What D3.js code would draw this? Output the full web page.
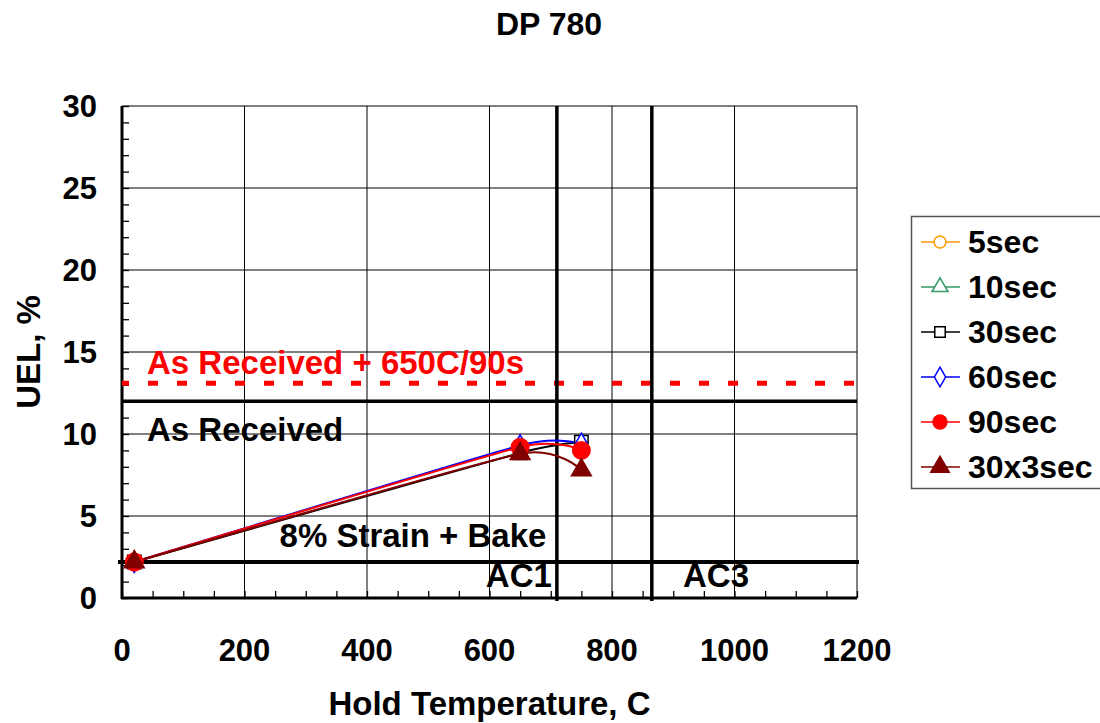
<!DOCTYPE html>
<meta charset="utf-8">
<head>
    <title>DP 780</title>
</head>
<style>
 body { margin: 0; background: #fff; }
 svg text { font-family: Arial, "Liberation Sans", sans-serif; font-weight: bold; }
 .grid line { stroke: #000; stroke-width: 1px; }
 .tick-label { font-size: 31px; fill: #000; }
 .legend text { font-size: 32px; }
</style>
<body>
    <div id="chart"></div>
    <script src="https://d3js.org/d3.v7.min.js"></script>
    <script>

     var width = 1100,
         height = 723;

     var margin = {left: 122, right: 243, top: 106, bottom: 125};

     // data
     var temps = [20, 650, 750];
     var seriesNames = ["5sec", "10sec", "30sec", "60sec", "90sec", "30x3sec"];
     var uel5 = [2.2];
     var uel10 = [2.2];
     var uel30 = [2.2, 8.85, 9.5];
     var uel60 = [2.2, 9.3, 9.4];
     var uel90 = [2.2, 9.2, 9.0];
     var uel30x3 = [2.2, 8.8, 7.8];
     var xTicks = [0, 200, 400, 600, 800, 1000, 1200];
     var yTicks = [0, 5, 10, 15, 20, 25, 30];

     var asReceived = 12.0;
     var asReceived650 = 13.1;
     var strainBake = 2.2;
     var ac1 = 710;
     var ac3 = 865;

     var series = [
         {name: seriesNames[0], values: uel5, color: "#ff9900", symbol: d3.symbolCircle, fill: "#fff", size: 130},
         {name: seriesNames[1], values: uel10, color: "#339966", symbol: d3.symbolTriangle, fill: "#fff", size: 110},
         {name: seriesNames[2], values: uel30, color: "#000000", symbol: d3.symbolSquare, fill: "#fff", size: 180},
         {name: seriesNames[3], values: uel60, color: "#0000ff", symbol: d3.symbolDiamond, fill: "#fff", size: 130},
         {name: seriesNames[4], values: uel90, color: "#ff0000", symbol: d3.symbolCircle, fill: "#ff0000", size: 240},
         {name: seriesNames[5], values: uel30x3, color: "#800000", symbol: d3.symbolTriangle, fill: "#800000", size: 170}
     ];

     var svg = d3.select("#chart").append("svg")
                 .attr("width", width)
                 .attr("height", height);

     var x = d3.scaleLinear()
               .domain([0, 1200])
               .range([margin.left, width - margin.right]);

     var y = d3.scaleLinear()
               .domain([0, 30])
               .range([height - margin.bottom, margin.top]);

     // gridlines
     var grid = svg.append("g").attr("class", "grid");
     grid.selectAll("line.v")
         .data(xTicks)
         .enter().append("line")
         .attr("x1", d => x(d)).attr("x2", d => x(d))
         .attr("y1", y(0)).attr("y2", y(30));
     grid.selectAll("line.h")
         .data(yTicks)
         .enter().append("line")
         .attr("x1", x(0)).attr("x2", x(1200))
         .attr("y1", d => y(d)).attr("y2", d => y(d));

     // minor ticks (inside)
     svg.append("g")
        .attr("transform", "translate(0," + y(0) + ")")
        .call(d3.axisBottom(x).ticks(24).tickSize(-7).tickFormat(""))
        .call(g => g.select(".domain").remove())
        .call(g => g.selectAll("line").attr("stroke", "#000").attr("stroke-width", 1.3));
     svg.append("g")
        .attr("transform", "translate(" + x(0) + ",0)")
        .call(d3.axisLeft(y).ticks(30).tickSize(-7).tickFormat(""))
        .call(g => g.select(".domain").remove())
        .call(g => g.selectAll("line").attr("stroke", "#000").attr("stroke-width", 1.3));

     // axes frame
     svg.append("line")
        .attr("x1", x(0)).attr("x2", x(0))
        .attr("y1", y(30)).attr("y2", y(0) + 1)
        .attr("stroke", "#000").attr("stroke-width", 3);
     svg.append("line")
        .attr("x1", x(0) - 1).attr("x2", x(1200))
        .attr("y1", y(0)).attr("y2", y(0))
        .attr("stroke", "#000").attr("stroke-width", 3);

     // tick labels
     svg.append("g").selectAll("text")
        .data(xTicks)
        .enter().append("text")
        .attr("class", "tick-label")
        .attr("x", d => x(d))
        .attr("y", y(0) + 63)
        .attr("text-anchor", "middle")
        .text(d => d);
     svg.append("g").selectAll("text")
        .data(yTicks)
        .enter().append("text")
        .attr("class", "tick-label")
        .attr("x", x(0) - 25)
        .attr("y", d => y(d) + 11)
        .attr("text-anchor", "end")
        .text(d => d);

     // reference lines
     svg.append("line")
        .attr("x1", x(0)).attr("x2", x(1200))
        .attr("y1", y(asReceived650)).attr("y2", y(asReceived650))
        .attr("stroke", "#ff0000").attr("stroke-width", 5)
        .attr("stroke-dasharray", "10,19")
        .attr("stroke-dashoffset", 3);
     svg.append("line")
        .attr("x1", x(0)).attr("x2", x(1200))
        .attr("y1", y(asReceived)).attr("y2", y(asReceived))
        .attr("stroke", "#000").attr("stroke-width", 3.5);
     svg.append("line")
        .attr("x1", x(0) - 4).attr("x2", x(1200) + 2)
        .attr("y1", y(strainBake)).attr("y2", y(strainBake))
        .attr("stroke", "#000").attr("stroke-width", 4);
     [ac1, ac3].forEach(function(t) {
         svg.append("line")
            .attr("x1", x(t)).attr("x2", x(t))
            .attr("y1", y(30)).attr("y2", y(0) + 3)
            .attr("stroke", "#000").attr("stroke-width", 3.5);
     });

     // annotations
     svg.append("text").attr("x", 147).attr("y", y(asReceived650) - 9)
        .attr("font-size", 33).attr("fill", "#ff0000")
        .text("As Received + 650C/90s");
     svg.append("text").attr("x", 147).attr("y", y(asReceived) + 40)
        .attr("font-size", 33).attr("fill", "#000")
        .text("As Received");
     svg.append("text").attr("x", 413).attr("y", y(strainBake) - 15)
        .attr("font-size", 33).attr("text-anchor", "middle")
        .text("8% Strain + Bake");
     svg.append("text").attr("x", x(ac1) - 5).attr("y", y(strainBake) + 25)
        .attr("font-size", 33).attr("text-anchor", "end")
        .text("AC1");
     svg.append("text").attr("x", 716).attr("y", y(strainBake) + 25)
        .attr("font-size", 33).attr("text-anchor", "middle")
        .text("AC3");

     // series lines
     var line = d3.line()
                  .x(d => x(d[0]))
                  .y(d => y(d[1]))
                  .curve(d3.curveCardinal.tension(0.5));

     series.forEach(function(s) {
         var pts = s.values.map(function(v, i) { return [temps[i], v]; });
         if (pts.length > 1) {
             svg.append("path")
                .datum(pts)
                .attr("fill", "none")
                .attr("stroke", s.color)
                .attr("stroke-width", 2)
                .attr("d", line);
         }
     });
     series.forEach(function(s) {
         var pts = s.values.map(function(v, i) { return [temps[i], v]; });
         svg.append("g").selectAll("path")
            .data(pts)
            .enter().append("path")
            .attr("transform", d => "translate(" + x(d[0]) + "," + y(d[1]) + ")")
            .attr("d", d3.symbol().type(s.symbol).size(s.size))
            .attr("fill", s.fill)
            .attr("stroke", s.color)
            .attr("stroke-width", 1.5);
     });

     // titles
     svg.append("text").attr("x", 549).attr("y", 35)
        .attr("font-size", 32).attr("text-anchor", "middle")
        .text("DP 780");
     svg.append("text").attr("x", x(600)).attr("y", 715)
        .attr("font-size", 33).attr("text-anchor", "middle")
        .text("Hold Temperature, C");
     svg.append("text")
        .attr("transform", "translate(40," + y(15) + ") rotate(-90)")
        .attr("font-size", 33).attr("text-anchor", "middle")
        .text("UEL, %");

     // legend
     var legend = svg.append("g").attr("class", "legend");
     legend.append("rect")
           .attr("x", 911.5).attr("y", 216.5)
           .attr("width", 200).attr("height", 272)
           .attr("fill", "#fff").attr("stroke", "#555").attr("stroke-width", 1.5);
     series.forEach(function(s, i) {
         var ly = 242 + i * 45;
         legend.append("line")
               .attr("x1", 921).attr("x2", 960)
               .attr("y1", ly).attr("y2", ly)
               .attr("stroke", s.color).attr("stroke-width", 1.5);
         legend.append("path")
               .attr("transform", "translate(940," + ly + ")")
               .attr("d", d3.symbol().type(s.symbol).size(i >= 4 ? 150 : 110))
               .attr("fill", s.fill)
               .attr("stroke", s.color)
               .attr("stroke-width", 1.5);
         legend.append("text")
               .attr("x", 968).attr("y", ly + 11)
               .text(s.name);
     });
    </script>
</body>
